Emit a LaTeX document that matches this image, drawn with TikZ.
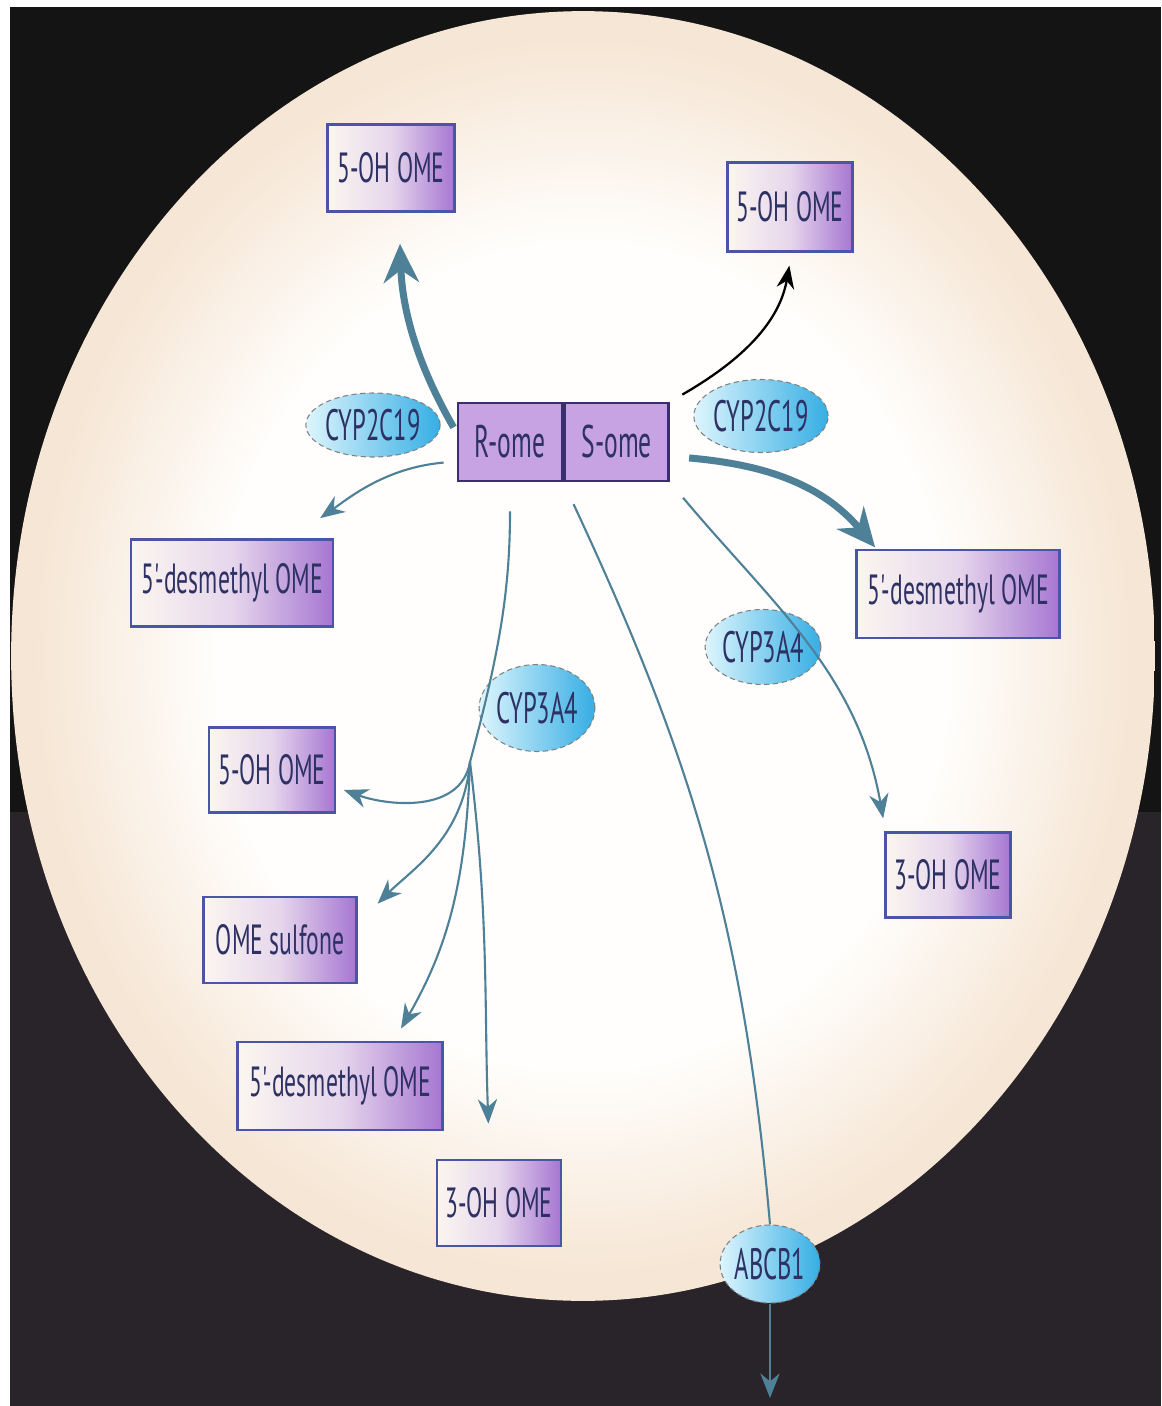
\documentclass[tikz,border=0pt]{standalone}
\usepackage{fontspec}
\newfontfamily\cellfont[FakeStretch=0.56]{PT Sans}
\usetikzlibrary{arrows.meta, shapes.geometric, positioning}

\definecolor{bgtop}{HTML}{141414}
\definecolor{bgbot}{HTML}{29242A}
\definecolor{ellin}{HTML}{FFFEFC}
\definecolor{ellout}{HTML}{F6E6D5}
\definecolor{boxcream}{HTML}{FBF6F0}
\definecolor{boxmid}{HTML}{E6D6EC}
\definecolor{boxpurple}{HTML}{A676D2}
\definecolor{boxblue}{HTML}{4B55A8}
\definecolor{druglilac}{HTML}{C7A3E3}
\definecolor{drugline}{HTML}{3A2F6E}
\definecolor{enzlight}{HTML}{DDF5FD}
\definecolor{enzdark}{HTML}{36AEE4}
\definecolor{flow}{HTML}{4E8197}
\definecolor{inknavy}{HTML}{2E3163}

\pgfdeclareradialshading{cellglow}{\pgfpoint{0bp}{0bp}}{color(0bp)=(ellin); color(16bp)=(ellin); color(24bp)=(ellout); color(50bp)=(ellout)}

\tikzset{
  prod/.style={draw=boxblue, line width=1.5pt, left color=boxcream, right color=boxpurple, middle color=boxmid,
    inner sep=0pt, minimum height=1.74cm, text=inknavy, font=\cellfont\fontsize{24pt}{26pt}\selectfont},
  drug/.style={draw=drugline, line width=1.6pt, fill=druglilac, inner sep=0pt, minimum width=2.08cm,
    minimum height=1.56cm, text=inknavy, font=\cellfont\fontsize{26pt}{28pt}\selectfont},
  enz/.style={ellipse, draw=gray, densely dashed, line width=0.6pt, left color=enzlight, right color=enzdark,
    inner sep=0pt, text=inknavy, font=\cellfont\fontsize{25pt}{26pt}\selectfont},
  flux/.style={draw=flow, line width=1.2pt, -{Stealth[length=14pt, width=11pt]}},
  fat/.style={draw=flow, line width=4pt, -{Stealth[length=22pt, width=20pt]}},
  dark/.style={draw=black, line width=1.3pt, -{Stealth[length=13pt, width=10pt]}}
}

\begin{document}
\begin{tikzpicture}[x=0.02cm, y=-0.02cm]
\useasboundingbox (0,0) rectangle (1161,1406);
% backdrop and cell
\fill[white] (0,0) rectangle (1161,1406);
\fill[bgtop] (10,7) rectangle (1161,812);
\fill[bgbot] (10,812) rectangle (1161,1406);
\shade[shading=cellglow] (583,656) ellipse [x radius=11.44cm, y radius=12.9cm];

% omeprazole enantiomers
\node[drug] (rome) at (510,442) {R-ome};
\node[drug, right=0pt of rome] (some) {S-ome};

% enzymes and transporter
\node[enz, minimum width=1.84cm, minimum height=1.28cm] (c19l) at (373,425) {CYP2C19};
\node[enz, minimum width=1.94cm, minimum height=1.46cm] (c19r) at (761,416) {CYP2C19};
\node[enz, minimum width=2.0cm, minimum height=1.5cm] (c3a4r) at (763,647) {CYP3A4};
\node[enz, minimum width=2.0cm, minimum height=1.74cm] (c3a4m) at (537,708) {CYP3A4};
\node[enz, minimum width=1.92cm, minimum height=1.56cm] (abcb) at (770,1264) {ABCB1};

% metabolites
\node[prod, minimum width=2.54cm] (ohtl) at (391,168) {5-OH OME};
\node[prod, minimum width=2.5cm, minimum height=1.78cm] (ohtr) at (790,207) {5-OH OME};
\node[prod, minimum width=4.04cm] (ddl) at (232,583) {5'-desmethyl OME};
\node[prod, minimum width=4.06cm, minimum height=1.76cm] (ddr) at (958,594) {5'-desmethyl OME};
\node[prod, minimum width=2.52cm, minimum height=1.7cm] (oh5m) at (272,770) {5-OH OME};
\node[prod, minimum width=2.5cm, minimum height=1.7cm] (oh3r) at (948,875) {3-OH OME};
\node[prod, minimum width=3.06cm, minimum height=1.72cm] (sulf) at (280,940) {OME sulfone};
\node[prod, minimum width=4.1cm, minimum height=1.76cm] (ddb) at (340,1086) {5'-desmethyl OME};
\node[prod, minimum width=2.48cm, minimum height=1.72cm] (oh3b) at (499,1203) {3-OH OME};

\coordinate (br) at (470,762);
\coordinate (efflux) at (770,1398);

% R-ome routes
\draw[fat, shorten <=0.12cm, shorten >=0.62cm] (rome.170) to[out=120, in=-88] (ohtl.-80);
\draw[flux, shorten <=0.26cm, shorten >=0.7cm] (rome.200) to[out=185, in=35] (ddl.37);
\draw[draw=flow, line width=1.2pt, shorten <=0.58cm] (rome.south) to[out=-90, in=75] (br);
\draw[flux, shorten >=0.16cm] (br) to[out=-100, in=-20] (oh5m.-15);
\draw[flux, shorten >=0.56cm] (br) to[out=-95, in=45] (sulf.12);
\draw[flux, shorten >=0.28cm] (br) to[out=-92, in=60] (ddb.40);
\draw[flux, shorten >=0.7cm] (br) to[out=-83, in=92] (oh3b.102);

% S-ome routes
\draw[dark, shorten <=0.28cm, shorten >=0.26cm] (some.north east) to[out=30, in=-100] (ohtr.-88);
\draw[fat, shorten <=0.38cm, shorten >=1pt] (some.-15) to[out=-5, in=130] (ddr.151);
\draw[flux, shorten <=0.4cm, shorten >=0.26cm] (some.south east) to[out=-50, in=100] (oh3r.145);
\draw[draw=flow, line width=1.2pt, shorten <=0.48cm] (some.south west) to[out=-65, in=95] (abcb.north);
\draw[flux] (abcb.south) -- (efflux);
\end{tikzpicture}
\end{document}
